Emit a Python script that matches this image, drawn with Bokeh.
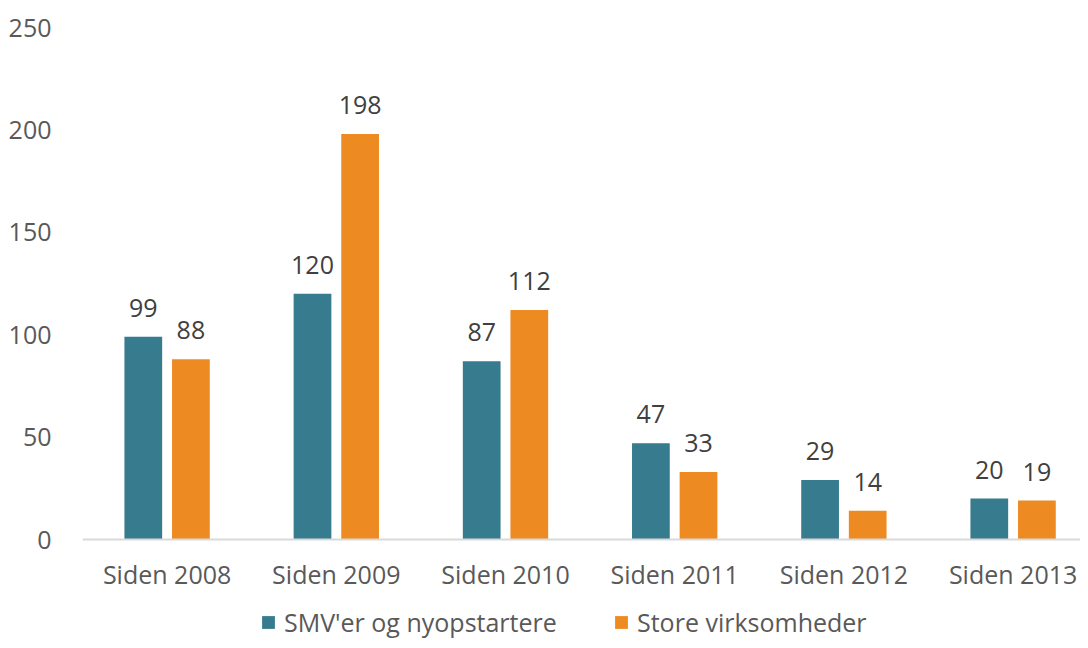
from bokeh.plotting import figure
from bokeh.models import (ColumnDataSource, Range1d, FixedTicker, LabelSet,
                          Legend, LegendItem, LinearAxis)
from bokeh.core.properties import value
from bokeh.embed import file_html
from bokeh.resources import INLINE

categories = ["Siden 2008", "Siden 2009", "Siden 2010", "Siden 2011", "Siden 2012", "Siden 2013"]
smv = [99, 120, 87, 47, 29, 20]
store = [88, 198, 112, 33, 14, 19]
series_names = ["SMV'er og nyopstartere", "Store virksomheder"]
y_ticks = [0, 50, 100, 150, 200, 250]

TEAL = "#367B8E"
ORANGE = "#EE8A22"
FONT = "Open Sans"

idx = [i + 0.5 for i in range(len(categories))]
off = 0.1407
bw = 0.223

src_a = ColumnDataSource(dict(x=[v - off for v in idx], y=smv, t=[str(v) for v in smv]))
src_b = ColumnDataSource(dict(x=[v + off for v in idx], y=store, t=[str(v) for v in store]))

W, H = 1080, 640
LEFT, TOP, BOTTOM_Y = 82, 27, 539
PX_PER_UNIT = (BOTTOM_Y - TOP) / 250.0
y_start = -(H - BOTTOM_Y) / PX_PER_UNIT

p = figure(width=W, height=H, output_backend="svg", toolbar_location=None,
           x_range=Range1d(0, (W - LEFT) / 169.2), y_range=Range1d(y_start, 250),
           min_border_left=LEFT, min_border_right=0, min_border_top=TOP,
           min_border_bottom=0, x_axis_location=None)
p.outline_line_color = None
p.xgrid.visible = False
p.ygrid.visible = False

ra = p.vbar(x="x", top="y", bottom=0, width=bw, source=src_a, color=TEAL, line_color=None)
rb = p.vbar(x="x", top="y", bottom=0, width=bw, source=src_b, color=ORANGE, line_color=None)

for s in (src_a, src_b):
    p.add_layout(LabelSet(x="x", y="y", text="t", source=s, y_offset=29,
                          text_align="center", text_baseline="middle",
                          text_font=value(FONT), text_font_size="25px", text_color="#404040"))

# x axis drawn at y = 0 inside the frame
xax = LinearAxis(fixed_location=0)
xax.ticker = FixedTicker(ticks=idx)
xax.major_label_overrides = {v: c for v, c in zip(idx, categories)}
xax.major_tick_line_color = None
xax.minor_tick_line_color = None
xax.axis_line_color = "#D9D9D9"
xax.axis_line_width = 2
xax.major_label_standoff = 11
xax.major_label_text_font = FONT
xax.major_label_text_font_size = "25px"
xax.major_label_text_color = "#595959"
p.add_layout(xax, "below")

p.yaxis.ticker = FixedTicker(ticks=y_ticks)
p.yaxis.major_tick_line_color = None
p.yaxis.minor_tick_line_color = None
p.yaxis.axis_line_color = None
p.yaxis.major_label_standoff = 25
p.yaxis.major_label_text_font = FONT
p.yaxis.major_label_text_font_size = "25px"
p.yaxis.major_label_text_color = "#595959"

lg = Legend(items=[LegendItem(label=series_names[0], renderers=[ra]),
                   LegendItem(label=series_names[1], renderers=[rb])],
            location=(260 - LEFT, 1), orientation="horizontal", padding=0, margin=0,
            spacing=0, border_line_color=None, background_fill_alpha=0,
            glyph_width=16, glyph_height=16, label_standoff=8, label_width=329,
            label_text_font=FONT, label_text_font_size="25px",
            label_text_color="#595959")
p.add_layout(lg, "center")

open("out.html", "w").write(file_html(p, INLINE))
